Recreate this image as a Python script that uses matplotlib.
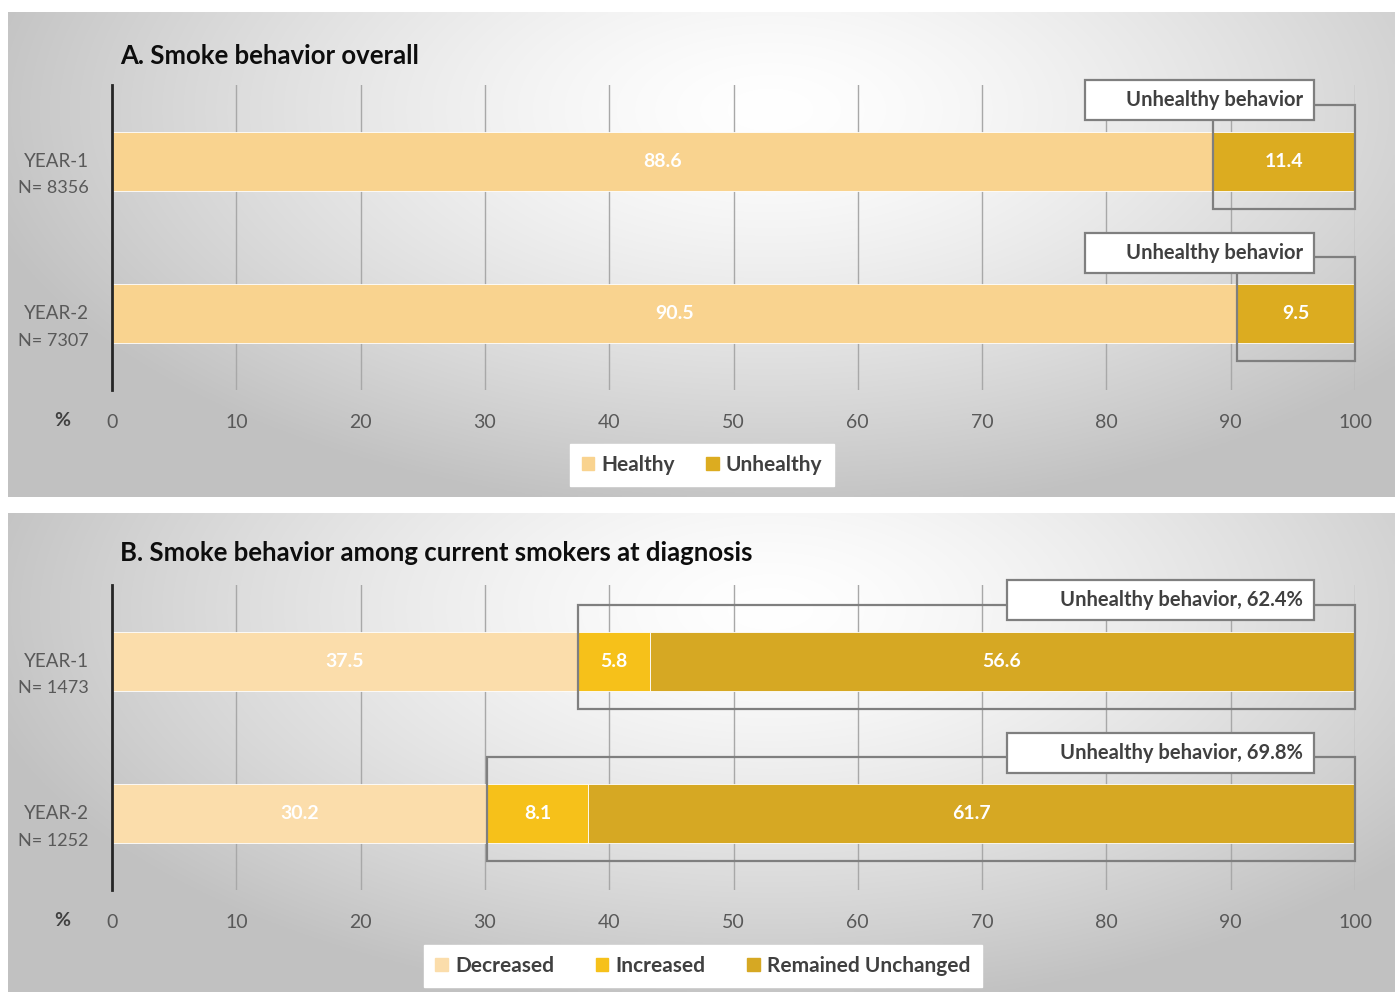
import numpy as np
import matplotlib
matplotlib.use("Agg")
import matplotlib.pyplot as plt
from matplotlib.patches import Rectangle, Patch

plt.rcParams['font.family'] = ['Lato', 'DejaVu Sans']

# ---------------- data ----------------
years = ["YEAR-1", "YEAR-2"]
n_a = ["N= 8356", "N= 7307"]
n_b = ["N= 1473", "N= 1252"]

healthy = [88.6, 90.5]
unhealthy = [11.4, 9.5]

decreased = [37.5, 30.2]
increased = [5.8, 8.1]
unchanged = [56.6, 61.7]
unhealthy_total_b = [62.4, 69.8]

ticks = list(range(0, 101, 10))

C_HEALTHY = "#F9D38F"
C_UNHEALTHY = "#DCAC20"
C_DEC = "#FBDDAB"
C_INC = "#F6C11A"
C_UNCH = "#D6A823"
GRID = "#A8A8A8"
EDGE = "#7F7F7F"
TXT = "#595959"
DARK = "#404040"

W, H = 1400, 992
fig = plt.figure(figsize=(W / 100, H / 100), dpi=100)
fig.patch.set_facecolor("white")


def fx(x):
    return x / W


def fy(y):
    return 1 - y / H


def background(top, bottom):
    bg = fig.add_axes([fx(8), fy(bottom), fx(1395) - fx(8), fy(top) - fy(bottom)])
    nx, ny = 400, 160
    xs = np.linspace(0, 1, nx)
    ys = np.linspace(0, 1, ny)
    X, Y = np.meshgrid(xs, ys)
    d = np.sqrt((X - 0.55) ** 2 + ((Y - 0.2) * 0.7) ** 2)
    v = 1 - 0.22 * (d / 0.55) ** 1.4
    v = np.clip(v, 0.76, 1.0)
    img = np.dstack([v, v, v])
    bg.imshow(img, aspect="auto", extent=[0, 1, 1, 0], interpolation="bilinear")
    bg.set_xlim(0, 1)
    bg.set_ylim(1, 0)
    bg.axis("off")
    bg.set_zorder(0)


def make_axes(top, bottom):
    ax = fig.add_axes([fx(112), fy(bottom), fx(1355) - fx(112), fy(top) - fy(bottom)])
    ax.set_zorder(1)
    ax.set_facecolor("none")
    ax.set_xlim(0, 100)
    ax.set_ylim(1.5, -0.5)
    for s in ["top", "right", "bottom"]:
        ax.spines[s].set_visible(False)
    ax.spines["left"].set_color("#262626")
    ax.spines["left"].set_linewidth(2)
    ax.set_xticks(ticks)
    ax.set_xticklabels([str(t) for t in ticks])
    ax.tick_params(axis="x", length=0, pad=17, labelsize=14, labelcolor=TXT)
    ax.set_yticks([])
    ax.grid(axis="x", color=GRID, lw=1)
    ax.set_axisbelow(True)
    return ax


def ylabels(ax, nlabels):
    for i, (yl, nl) in enumerate(zip(years, nlabels)):
        ax.annotate(yl, xy=(0, i), xycoords=("axes fraction", "data"),
                    xytext=(-23, 0), textcoords="offset pixels",
                    ha="right", va="center", fontsize=13.5, color=TXT)
        ax.annotate(nl, xy=(0, i), xycoords=("axes fraction", "data"),
                    xytext=(-23, -27), textcoords="offset pixels",
                    ha="right", va="center", fontsize=13, color=TXT)


def callout(ax, i, start, text, box_left):
    ax.add_patch(Rectangle((start, i - 0.37), 100 - start, 0.68, fill=False,
                           edgecolor=EDGE, lw=1.6, zorder=4, clip_on=False))
    ax.add_patch(Rectangle((box_left, i - 0.53), 96.7 - box_left, 0.26,
                           facecolor="white", edgecolor=EDGE, lw=1.6, zorder=5,
                           clip_on=False))
    ax.text(95.8, i - 0.40, text, ha="right", va="center", fontsize=14.5,
            fontweight="bold", color=DARK, zorder=6, clip_on=False)


def seg_labels(ax, lefts, widths, color="white"):
    for i, (l, w) in enumerate(zip(lefts, widths)):
        ax.text(l + w / 2, i, f"{w:.1f}", ha="center", va="center", fontsize=14,
                fontweight="bold", color=color, zorder=3)


y = np.arange(len(years))
BH = 0.39

# ---------------- Panel A ----------------
background(12, 497)
axA = make_axes(85, 390)
axA.barh(y, healthy, height=BH, color=C_HEALTHY, edgecolor="white", lw=0.6, zorder=2)
axA.barh(y, unhealthy, left=healthy, height=BH, color=C_UNHEALTHY, edgecolor="white", lw=0.6, zorder=2)
seg_labels(axA, [0, 0], healthy)
seg_labels(axA, healthy, unhealthy)
ylabels(axA, n_a)
for i in range(len(years)):
    callout(axA, i, healthy[i], "Unhealthy behavior", 78.3)
fig.text(fx(120), fy(56), "A. Smoke behavior overall", ha="left", va="center",
         fontsize=18.5, fontweight="bold", color="#0D0D0D")
fig.text(fx(62), fy(420), "%", ha="center", va="center", fontsize=14,
         fontweight="bold", color=DARK)
legA = fig.legend(handles=[Patch(color=C_HEALTHY, label="Healthy"),
                           Patch(color=C_UNHEALTHY, label="Unhealthy")],
                  loc="center", bbox_to_anchor=(fx(702), fy(465)), ncol=2,
                  frameon=True, fancybox=False, edgecolor="white", facecolor="white",
                  framealpha=1, handlelength=0.6, handleheight=0.6, handletextpad=0.35,
                  columnspacing=1.5, borderpad=0.55, borderaxespad=0,
                  prop={"size": 15, "weight": "bold"})
for t in legA.get_texts():
    t.set_color(DARK)

# ---------------- Panel B ----------------
background(513, 992)
axB = make_axes(585, 890)
left_inc = decreased
left_unch = [d + n for d, n in zip(decreased, increased)]
axB.barh(y, decreased, height=BH, color=C_DEC, edgecolor="white", lw=0.6, zorder=2)
axB.barh(y, increased, left=left_inc, height=BH, color=C_INC, edgecolor="white", lw=0.6, zorder=2)
axB.barh(y, unchanged, left=left_unch, height=BH, color=C_UNCH, edgecolor="white", lw=0.6, zorder=2)
seg_labels(axB, [0, 0], decreased)
seg_labels(axB, left_inc, increased)
seg_labels(axB, left_unch, unchanged)
ylabels(axB, n_b)
for i in range(len(years)):
    callout(axB, i, decreased[i], f"Unhealthy behavior, {unhealthy_total_b[i]:.1f}%", 72.0)
fig.text(fx(120), fy(553), "B. Smoke behavior among current smokers at diagnosis",
         ha="left", va="center", fontsize=18.5, fontweight="bold", color="#0D0D0D")
fig.text(fx(62), fy(920), "%", ha="center", va="center", fontsize=14,
         fontweight="bold", color=DARK)
legB = fig.legend(handles=[Patch(color=C_DEC, label="Decreased"),
                           Patch(color=C_INC, label="Increased"),
                           Patch(color=C_UNCH, label="Remained Unchanged")],
                  loc="center", bbox_to_anchor=(fx(703), fy(966)), ncol=3,
                  frameon=True, fancybox=False, edgecolor="white", facecolor="white",
                  framealpha=1, handlelength=0.6, handleheight=0.6, handletextpad=0.35,
                  columnspacing=2.0, borderpad=0.55, borderaxespad=0,
                  prop={"size": 15, "weight": "bold"})
for t in legB.get_texts():
    t.set_color(DARK)

fig.savefig("out.png", dpi=100, facecolor="white")
